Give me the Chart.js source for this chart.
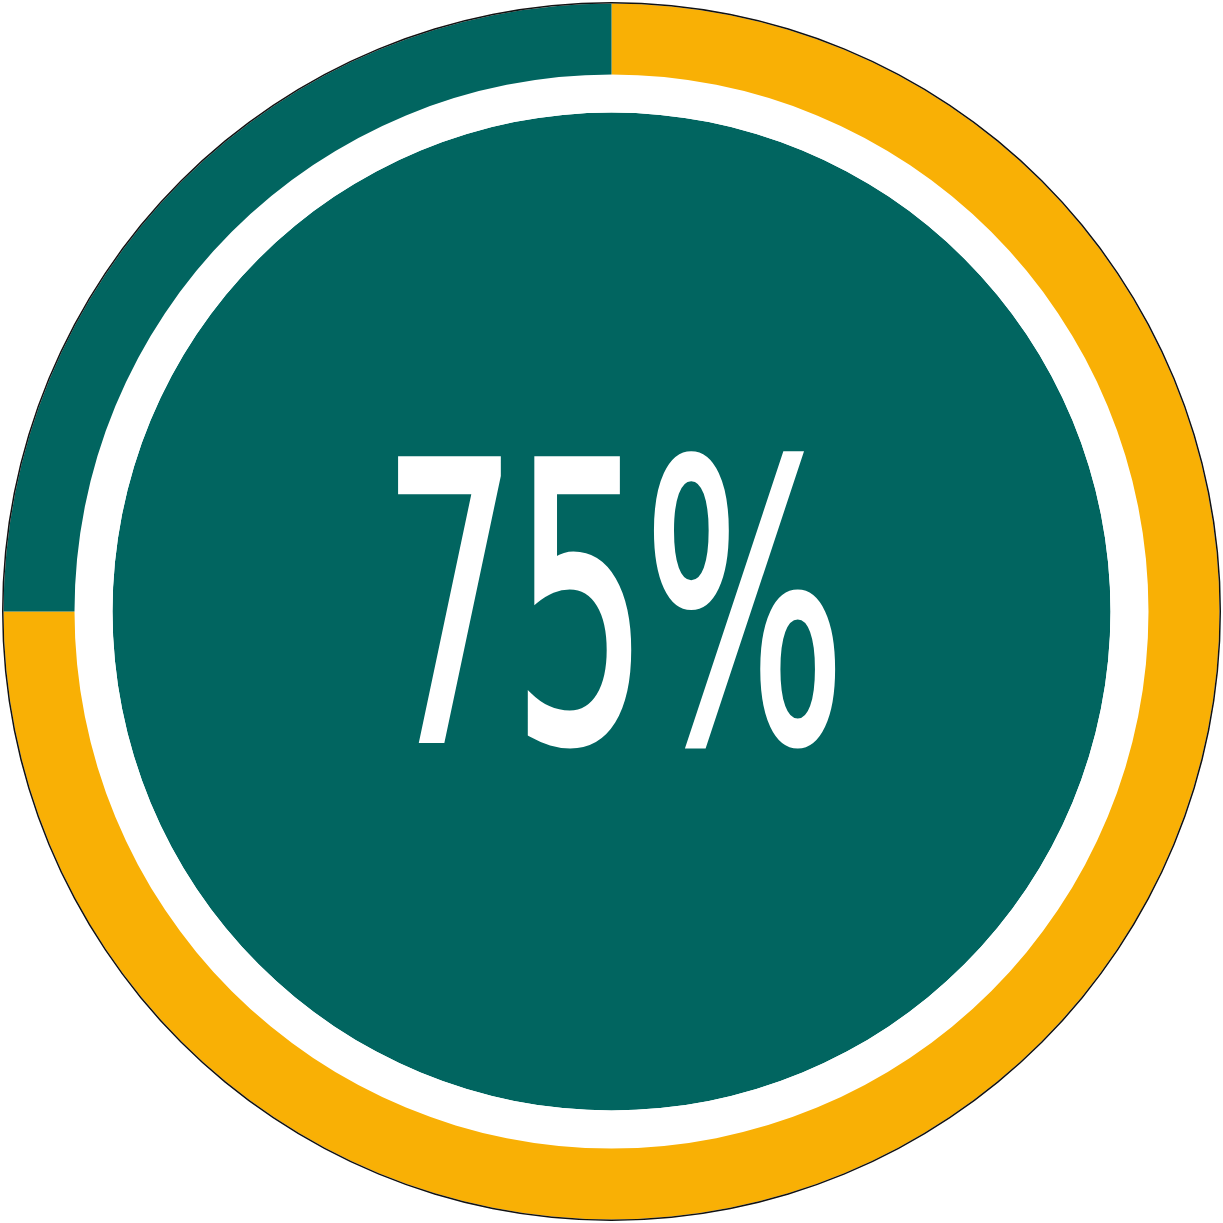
<!DOCTYPE html>
<html>
<head>
<meta charset="utf-8">
<script src="https://cdn.jsdelivr.net/npm/chart.js@4"></script>
<style>
  html, body { margin: 0; padding: 0; background: #fff; }
  #wrap { position: relative; width: 1223px; height: 1223px; }
  #label {
    position: absolute; left: 0; top: 0; width: 1223px; height: 1223px;
    display: flex; align-items: center; justify-content: center;
    pointer-events: none;
  }
  #label span {
    font-family: "DejaVu Sans Condensed", "DejaVu Sans", sans-serif;
    font-stretch: condensed;
    font-weight: 400;
    font-size: 385px;
    line-height: 1;
    color: #fff;
    -webkit-text-stroke: 6px #fff;
    display: inline-block;
    transform: translateY(-4px) scaleX(0.61);
    letter-spacing: -6px;
  }
</style>
</head>
<body>
<div id="wrap">
  <canvas id="chart" width="1223" height="1223"></canvas>
  <div id="label"><span id="pct"></span></div>
</div>
<script>
// ring values: share done vs remaining
const labels = ['Done', 'Remaining'];
const share = [75, 25];
const centerText = '75%';

const teal = '#016560';
const yellow = '#F9B005';

document.getElementById('pct').textContent = centerText;

new Chart(document.getElementById('chart'), {
  type: 'pie',
  data: {
    labels: labels,
    datasets: [
      // thin dark outline round the ring
      { data: [100], backgroundColor: ['#111'], borderWidth: 0, weight: 1.5 },
      { data: share, backgroundColor: [yellow, teal], borderWidth: 0, weight: 71 },
      // white gap
      { data: [100], backgroundColor: ['#fff'], borderWidth: 0, weight: 38 },
      // inner disc
      { data: [100], backgroundColor: [teal], borderWidth: 0, weight: 499 }
    ]
  },
  options: {
    responsive: false,
    animation: false,
    layout: { padding: 2 },
    plugins: { legend: { display: false }, tooltip: { enabled: false } }
  }
});
</script>
</body>
</html>
